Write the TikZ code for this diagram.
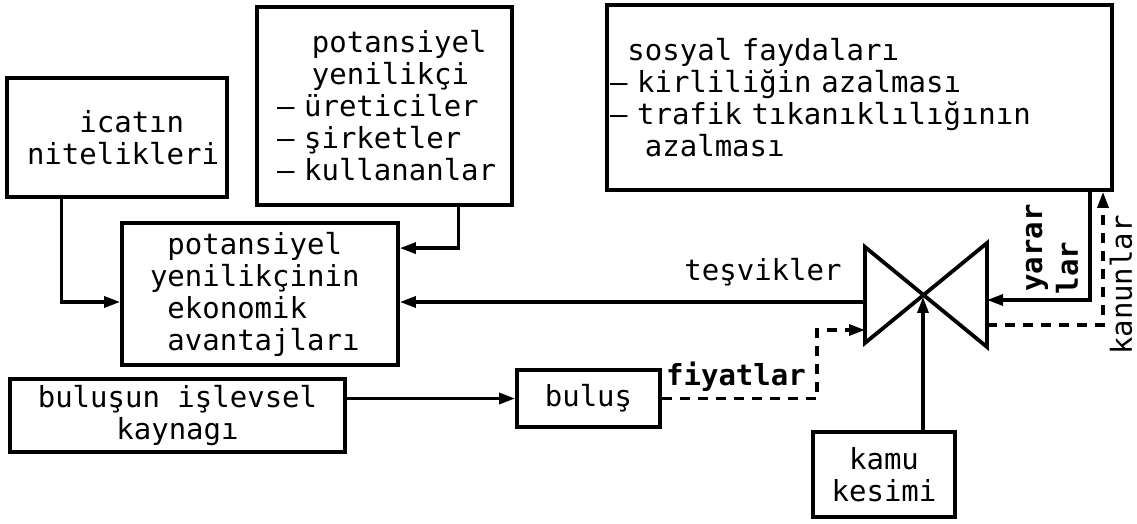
\documentclass[tikz,border=0pt]{standalone}
\usepackage{fontspec}
\setmonofont{DejaVu Sans Mono}
\usepackage{tikz}
\usetikzlibrary{arrows.meta}
\newcommand{\yazi}{\ttfamily\fontsize{14.5}{16}\selectfont
  \fontdimen2\font=\fontcharwd\font`x\fontdimen3\font=0pt\fontdimen4\font=0pt}
\tikzset{
  blok/.style={draw, line width=1.9pt, inner ysep=0pt, font=\yazi},
  ok/.style={draw, line width=1.6pt, -{Triangle[length=8pt,width=5.5pt]}},
  kesik/.style={ok, dash pattern=on 5pt off 4pt},
  lab/.style={font=\yazi, inner sep=0pt},
  labk/.style={font=\yazi\bfseries, inner sep=0pt},
  valf/.style={draw, line width=1.9pt, line join=miter},
}

\begin{document}
\begin{tikzpicture}[x=0.5pt, y=-0.5pt]
  \useasboundingbox (0,0) rectangle (1137,524);
  \node[blok, align=left, text width=90pt, inner xsep=10pt, minimum height=59.5pt] (icat) at (117,137.5) {\phantom{xxx}icatın\\nitelikleri};
  \node[blok, align=left, text width=107.5pt, inner xsep=10pt, minimum height=99pt] (yenilikci) at (384.5,106) {\phantom{xx}potansiyel\\\phantom{xx}yenilikçi\\\mbox{– üreticiler}\\\mbox{– şirketler}\\\mbox{– kullananlar}};
  \node[blok, align=left, text width=110pt, inner xsep=14pt, minimum height=71pt] (avantaj) at (260,294) {\phantom{x}potansiyel\\yenilikçinin\\\phantom{x}ekonomik\\\phantom{x}avantajları};
  \node[blok, align=center, minimum width=167.5pt, minimum height=36.5pt] (kaynak) at (177.5,415.5) {buluşun işlevsel\\kaynagı};
  \node[blok, minimum width=71.5pt, minimum height=28.5pt] (bulus) at (588.5,398.5) {buluş};
  \node[blok, align=left, text width=249.5pt, inner xsep=1.5pt, minimum height=92.5pt] (sosyal) at (859.5,97.5) {\phantom{x}sosyal faydaları\\\mbox{– kirliliğin azalması}\\\mbox{– trafik tıkanıklılığının}\\\phantom{xx}azalması};
  \node[blok, align=center, minimum width=71pt, minimum height=42.5pt] (kamu) at (884,474.5) {kamu\\kesimi};

  % valf
  \coordinate (v) at (923,297);
  \coordinate (vl1) at (865,247);
  \coordinate (vl2) at (865,343);
  \coordinate (vr1) at (987,243);
  \coordinate (vr2) at (987,347);
  \draw[valf] (vl1) -- (vl2) -- (vr1) -- (vr2) -- cycle;
  \coordinate (tesvik) at (865,302);
  \coordinate (fiyat) at (865,330);
  \coordinate (yarar) at (987,300);
  \coordinate (kanun) at (987,325);
  \coordinate (fk) at (817,330);
  \coordinate (yk) at (1090,0);
  \coordinate (kk) at (1103,0);

  \draw[ok] ([xshift=28pt]icat.south west) |- ([yshift=-4pt]avantaj.west);
  \draw[ok] ([xshift=101.5pt]yenilikci.south west) |- ([yshift=-13.5pt]avantaj.north east);
  \draw[ok] (tesvik) -- (tesvik -| avantaj.east);
  \draw[ok] (kaynak.east |- bulus.west) -- (bulus.west);
  \draw[kesik] (bulus.east) -| (fk) -- (fiyat);
  \draw[ok] (kamu.north -| v) -- (v);
  \draw[ok] (sosyal.south -| yk) |- (yarar);
  \draw[kesik] (kanun) -| (sosyal.south -| kk);

  \node[lab] (tesvikler) at (763,272) {teşvikler};
  \node[labk] (fiyatlar) at (736,377) {fiyatlar};
  \node[labk, rotate=90] (yararlar1) at (1037,248) {yarar};
  \node[labk, rotate=90] (yararlar2) at (1067,268) {lar};
  \node[lab, rotate=90] (kanunlar) at (1121,285) {kanunlar};
\end{tikzpicture}
\end{document}
